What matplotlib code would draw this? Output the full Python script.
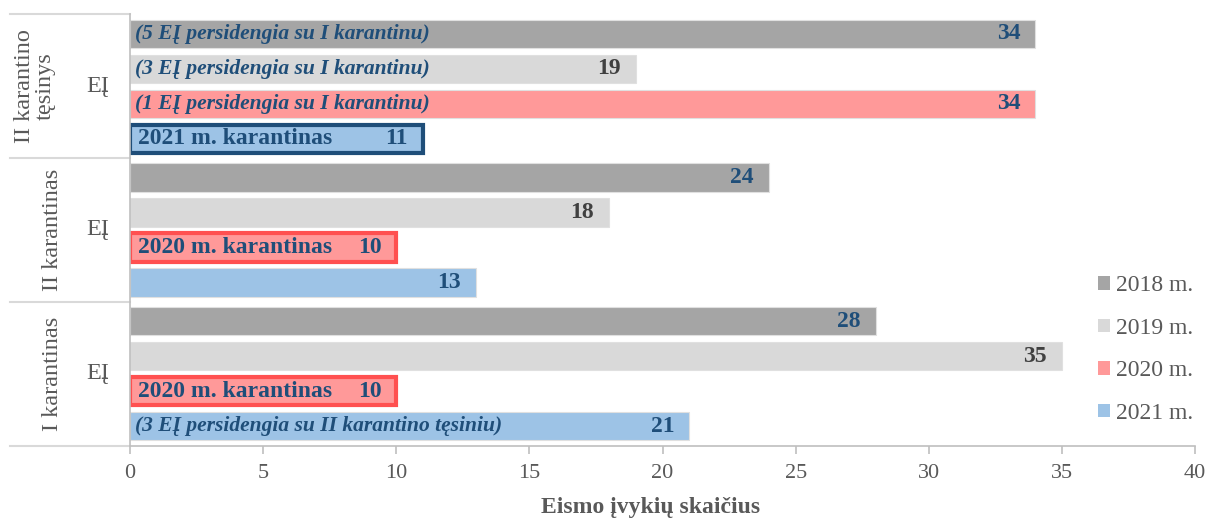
import matplotlib
matplotlib.use("Agg")
import matplotlib.pyplot as plt
import matplotlib.transforms as mtransforms

plt.rcParams['font.family'] = ['Liberation Serif', 'DejaVu Serif']

groups = ["II karantino\ntęsinys", "II karantinas", "I karantinas"]
inner_label = "EĮ"
years = ["2018 m.", "2019 m.", "2020 m.", "2021 m."]
colors = ["#A5A5A5", "#D9D9D9", "#FF9999", "#9DC3E6"]
v2018 = [34, 24, 28]
v2019 = [19, 18, 35]
v2020 = [34, 10, 10]
v2021 = [11, 13, 21]
series = [v2018, v2019, v2020, v2021]
label_colors = ["#1F4E79", "#404040", "#1F4E79", "#1F4E79"]

italic_notes = {
    (0, 0): "(5 EĮ persidengia su I karantinu)",
    (0, 1): "(3 EĮ persidengia su I karantinu)",
    (0, 2): "(1 EĮ persidengia su I karantinu)",
    (2, 3): "(3 EĮ persidengia su II karantino tęsiniu)",
}
bold_notes = {
    (0, 3): "2021 m. karantinas",
    (1, 2): "2020 m. karantinas",
    (2, 2): "2020 m. karantinas",
}
highlight = {(0, 3): "#1F4E79", (1, 2): "#FF5050", (2, 2): "#FF5050"}

DARK = "#1F4E79"
GRAY = "#595959"

fig = plt.figure(figsize=(12.11, 5.21), dpi=100)
ax = fig.add_axes([130/1211, 1-446/521, 1065/1211, 432/521])

gstep = 4.1
for j, (vals, col, yr) in enumerate(zip(series, colors, years)):
    ys = [g*gstep + j for g in range(len(groups))]
    ecs = [highlight.get((g, j), "#E0E0E0") for g in range(len(groups))]
    lws = [3 if (g, j) in highlight else 0.8 for g in range(len(groups))]
    bars = ax.barh(ys, vals, height=0.82, color=col, edgecolor=ecs, linewidth=lws, label=yr, zorder=2)
    for g, (b, v) in enumerate(zip(bars, vals)):
        y = b.get_y() + b.get_height()/2
        ax.annotate(str(v), xy=(v, y), xytext=(-15, 0), textcoords='offset pixels',
                    ha='right', va='center', fontsize=17, fontweight='bold',
                    color=label_colors[j], zorder=4)
        if (g, j) in italic_notes:
            ax.annotate(italic_notes[(g, j)], xy=(0, y), xytext=(5, 0), textcoords='offset pixels',
                        ha='left', va='center', fontsize=15.5, fontweight='bold', fontstyle='italic',
                        color=DARK, zorder=4)
        if (g, j) in bold_notes:
            ax.annotate(bold_notes[(g, j)], xy=(0, y), xytext=(8, 0), textcoords='offset pixels',
                        ha='left', va='center', fontsize=17, fontweight='bold',
                        color=DARK, zorder=4)

ax.set_ylim(2*gstep + 3 + 0.57, -0.57)
ax.set_xlim(0, 40)
ax.set_xticks(range(0, 41, 5))
ax.set_yticks([])
for s in ['top', 'right']:
    ax.spines[s].set_visible(False)
for s in ['left', 'bottom']:
    ax.spines[s].set_color("#BFBFBF")
    ax.spines[s].set_linewidth(1.2)
ax.tick_params(axis='x', direction='out', length=6, color="#BFBFBF", width=1.2,
               labelsize=16, labelcolor=GRAY, pad=7)
ax.set_xlabel("Eismo įvykių skaičius", fontsize=17, fontweight='bold', color=GRAY,
              labelpad=10, x=0.489)

trans = mtransforms.blended_transform_factory(ax.transAxes, ax.transData)
xl = -120/1065
bounds = [-0.57, 3.55, 3.55 + gstep, 2*gstep + 3 + 0.57]
for b in bounds:
    ax.plot([xl, 0], [b, b], transform=trans, color="#D9D9D9", lw=1.5, clip_on=False)

outer_x = [-95/1065, -77/1065, -77/1065]
for g, name in enumerate(groups):
    yc = g*gstep + 1.5
    ax.text(outer_x[g], yc, name, transform=trans, rotation=90, ha='center', va='center',
            fontsize=17.5, color=GRAY, linespacing=0.95)
    ax.text(-32/1065, yc, inner_label, transform=trans, ha='center', va='center',
            fontsize=17.5, color=GRAY)

leg = ax.legend(loc='center left', bbox_to_anchor=(1077/1211, 1-349.5/521),
                bbox_transform=fig.transFigure, frameon=False, fontsize=17,
                labelcolor=GRAY, handlelength=0.5, handleheight=0.5, handletextpad=0.25,
                labelspacing=0.91)
for h in leg.legend_handles:
    h.set_linewidth(0)

fig.savefig("out.png", dpi=100)
